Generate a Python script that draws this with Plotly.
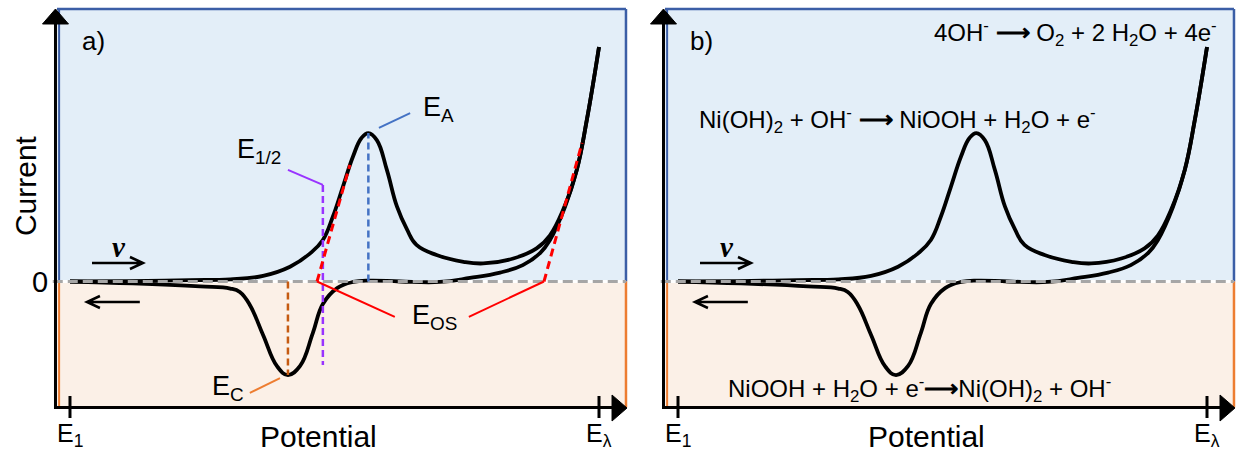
import plotly.graph_objects as go

# ---------------- data (potential: E1 = 0, E_lambda = 1; current: max anodic = 1) ----------------
fwd_potential = [0.0, 0.113, 0.227, 0.303, 0.365, 0.416, 0.454, 0.478, 0.497, 0.516, 0.535, 0.551,
                 0.564, 0.580, 0.599, 0.618, 0.637, 0.655, 0.693, 0.744, 0.781, 0.838, 0.882, 0.907,
                 0.932, 0.958, 0.977, 1.0]
fwd_current = [0.0, 0.002, 0.006, 0.009, 0.024, 0.063, 0.120, 0.177, 0.277, 0.405, 0.533, 0.612,
               0.633, 0.603, 0.476, 0.320, 0.222, 0.156, 0.113, 0.084, 0.077, 0.098, 0.141, 0.196,
               0.305, 0.476, 0.689, 1.0]
rev_potential = [1.0, 0.977, 0.958, 0.936, 0.907, 0.889, 0.856, 0.813, 0.756, 0.699, 0.624, 0.567,
                 0.535, 0.505, 0.478, 0.459, 0.435, 0.412, 0.391, 0.365, 0.340, 0.321, 0.303,
                 0.246, 0.119, 0.0]
rev_current = [1.0, 0.689, 0.476, 0.320, 0.176, 0.122, 0.070, 0.038, 0.015, -0.002, 0.0, 0.004,
               -0.002, -0.028, -0.096, -0.220, -0.360, -0.399, -0.360, -0.228, -0.100, -0.045,
               -0.030, -0.021, -0.008, 0.0]

# characteristic potentials read from panel a)
E_A = 0.564          # anodic peak potential
E_A_current = 0.633
E_C = 0.412          # cathodic peak potential
E_C_current = -0.399
E_half = 0.478       # half-wave potential
E_OS_1 = 0.467       # onset of Ni(OH)2 oxidation
E_OS_2 = 0.896       # onset of OER

tick_labels = ["E<sub>1</sub>", "E<sub>λ</sub>"]
tick_values = [0.0, 1.0]

ARROW = "<b>⟶</b>"
reactions_b = [
    f"4OH<sup>-</sup> {ARROW} O<sub>2</sub> + 2 H<sub>2</sub>O + 4e<sup>-</sup>",
    f"Ni(OH)<sub>2</sub> + OH<sup>-</sup> {ARROW} NiOOH + H<sub>2</sub>O + e<sup>-</sup>",
    f"NiOOH + H<sub>2</sub>O + e<sup>-</sup>{ARROW}Ni(OH)<sub>2</sub> + OH<sup>-</sup>",
]

# ---------------- styling ----------------
FONT = "Liberation Sans, Arial, sans-serif"
BLUE_FILL = "#E3EEF8"
ORANGE_FILL = "#FBF0E7"
BLUE_EDGE = "#3B5EA6"
ORANGE_EDGE = "#ED7D31"

XL, XR = -0.02457, 1.0510     # panel edges (potential units)
YB, YT = -0.5373, 1.1620      # panel edges (current units)
YRANGE = [-0.7313, 1.2004]

panels = [
    dict(xa="x", ya="y", rng=[-0.1323, 1.0775], dom=[0.0, 640 / 1238], letter="a)"),
    dict(xa="x2", ya="y2", rng=[-0.0794, 1.0586], dom=[636 / 1238, 1.0], letter="b)"),
]

fig = go.Figure()
shapes = []
annotations = []


def line(p, x0, y0, x1, y1, color, width, dash="solid", layer="above"):
    shapes.append(dict(type="line", xref=p["xa"], yref=p["ya"], x0=x0, y0=y0, x1=x1, y1=y1,
                       line=dict(color=color, width=width, dash=dash), layer=layer))


def text(p, x, y, s, size, xanchor="center", yanchor="middle", color="black", angle=0, family=FONT):
    annotations.append(dict(xref=p["xa"], yref=p["ya"], x=x, y=y, text=s, showarrow=False,
                            xanchor=xanchor, yanchor=yanchor, textangle=angle,
                            font=dict(family=family, size=size, color=color)))


for i, p in enumerate(panels):
    xa, ya = p["xa"], p["ya"]
    # background regions
    shapes.append(dict(type="rect", xref=xa, yref=ya, x0=XL, x1=XR, y0=0, y1=YT,
                       fillcolor=BLUE_FILL, line=dict(width=0), layer="below"))
    shapes.append(dict(type="rect", xref=xa, yref=ya, x0=XL, x1=XR, y0=YB, y1=0,
                       fillcolor=ORANGE_FILL, line=dict(width=0), layer="below"))
    line(p, XL, YT, XR, YT, BLUE_EDGE, 2.5, layer="below")
    line(p, XR, 0, XR, YT, BLUE_EDGE, 2.5, layer="below")
    line(p, XR, YB, XR, 0, ORANGE_EDGE, 2.5, layer="below")
    line(p, XL + 0.004, 0, XL + 0.004, YT, BLUE_EDGE, 2, layer="below")
    line(p, XL + 0.004, YB, XL + 0.004, 0, ORANGE_EDGE, 2, layer="below")

    # zero line base (white)
    fig.add_trace(go.Scatter(x=[XL - 0.008, XR], y=[0, 0], mode="lines", xaxis=xa, yaxis=ya,
                             line=dict(color="white", width=3), hoverinfo="skip", showlegend=False))
    # CV curves
    fig.add_trace(go.Scatter(x=fwd_potential, y=fwd_current, mode="lines", xaxis=xa, yaxis=ya,
                             line=dict(color="black", width=3.8, shape="spline", smoothing=1.2),
                             hoverinfo="skip", showlegend=False))
    fig.add_trace(go.Scatter(x=rev_potential, y=rev_current, mode="lines", xaxis=xa, yaxis=ya,
                             line=dict(color="black", width=3.8, shape="spline", smoothing=1.2),
                             hoverinfo="skip", showlegend=False))
    # dashed zero line on top
    fig.add_trace(go.Scatter(x=[XL - 0.008, XR], y=[0, 0], mode="lines", xaxis=xa, yaxis=ya,
                             line=dict(color="#A6A6A6", width=3, dash="10px,5px"),
                             hoverinfo="skip", showlegend=False))

    # axes (black) with arrowheads
    line(p, -0.02741, YB - 0.006, -0.02741, 1.10, "black", 3)
    line(p, -0.02741, YB, 1.025, YB, "black", 3)
    shapes.append(dict(type="path", xref=xa, yref=ya,
                       path="M -0.05198,1.0981 L -0.00284,1.0981 L -0.02741,1.162 Z",
                       fillcolor="black", line=dict(color="black", width=1)))
    shapes.append(dict(type="path", xref=xa, yref=ya,
                       path="M 1.0246,-0.4840 L 1.0246,-0.5949 L 1.0529,-0.5394 Z",
                       fillcolor="black", line=dict(color="black", width=1)))
    for tv, tl in zip(tick_values, tick_labels):
        line(p, tv, -0.4883, tv, -0.5821, "black", 3)
        text(p, tv, -0.655, tl, 25)

    text(p, 0.469, -0.66, "Potential", 30)
    text(p, 0.019, 1.026, p["letter"], 26, xanchor="left")

    # scan-direction arrows
    shapes.append(dict(type="path", xref=xa, yref=ya,
                       path="M 0.0416,0.0789 L 0.138,0.0789 M 0.1134,0.1045 L 0.138,0.0789 L 0.1134,0.0533",
                       line=dict(color="black", width=2.5)))
    shapes.append(dict(type="path", xref=xa, yref=ya,
                       path="M 0.132,-0.0874 L 0.032,-0.0874 M 0.0566,-0.0618 L 0.032,-0.0874 L 0.0566,-0.113",
                       line=dict(color="black", width=2.5)))
    text(p, 0.0926, 0.147, "<b><i>ν</i></b>", 29, family="Liberation Serif, DejaVu Serif, serif")

pa, pb = panels

# ---------------- panel a) annotations ----------------
text(pa, -0.0567, -0.004, "0", 29)
text(pa, -0.085, 0.407, "Current", 30, angle=-90)

line(pa, E_A, 0, E_A, E_A_current, "#4472C4", 2.5, dash="7px,4px")
line(pa, 0.584, 0.655, 0.643, 0.718, "#4472C4", 2)
text(pa, 0.6635, 0.735, "E<sub>A</sub>", 27, xanchor="left")

line(pa, E_half, 0.412, E_half, -0.356, "#9933FF", 2.5, dash="7px,4px")
line(pa, 0.412, 0.476, E_half, 0.412, "#9933FF", 2)
text(pa, 0.312, 0.555, "E<sub>1/2</sub>", 27, xanchor="left")

line(pa, E_C, 0, E_C, E_C_current, "#C55A11", 2.5, dash="7px,4px")
line(pa, 0.340, -0.475, 0.397, -0.412, ORANGE_EDGE, 2)
text(pa, 0.2647, -0.452, "E<sub>C</sub>", 27, xanchor="left")

line(pa, E_OS_1, 0, 0.529, 0.497, "#FF0000", 3, dash="8px,5px")
line(pa, E_OS_2, 0, 0.968, 0.591, "#FF0000", 3, dash="8px,5px")
line(pa, E_OS_1, 0, 0.614, -0.151, "#FF0000", 2)
line(pa, E_OS_2, 0, 0.754, -0.151, "#FF0000", 2)
text(pa, 0.6427, -0.152, "E<sub>OS</sub>", 27, xanchor="left")

# ---------------- panel b) reactions ----------------
text(pb, 0.752, 1.06, reactions_b[0], 24)
text(pb, 0.414, 0.69, reactions_b[1], 24)
text(pb, 0.457, -0.46, reactions_b[2], 24)

axis_common = dict(visible=False, showgrid=False, zeroline=False, fixedrange=True)
fig.update_layout(
    width=1238, height=453, autosize=False,
    margin=dict(l=0, r=0, t=0, b=0),
    paper_bgcolor="white", plot_bgcolor="rgba(0,0,0,0)",
    showlegend=False,
    xaxis=dict(domain=pa["dom"], range=pa["rng"], anchor="y", **axis_common),
    yaxis=dict(domain=[0, 1], range=YRANGE, anchor="x", **axis_common),
    xaxis2=dict(domain=pb["dom"], range=pb["rng"], anchor="y2", **axis_common),
    yaxis2=dict(domain=[0, 1], range=YRANGE, anchor="x2", **axis_common),
    shapes=shapes,
    annotations=annotations,
)

fig.write_html("out.html")
